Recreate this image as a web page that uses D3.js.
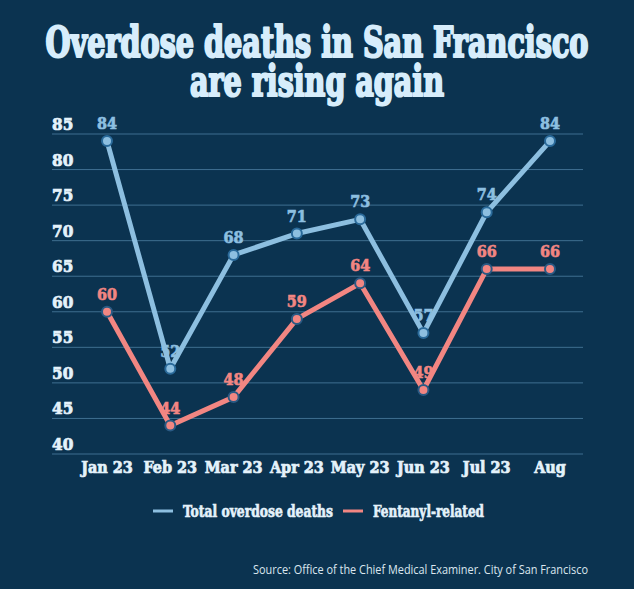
<!DOCTYPE html>
<html><head><meta charset="utf-8">
<script src="https://cdn.jsdelivr.net/npm/d3@7"></script>
<style>
html,body{margin:0;padding:0;background:#0b3350;}
svg{display:block;}
</style></head>
<body>
<script>
const months = ["Jan 23","Feb 23","Mar 23","Apr 23","May 23","Jun 23","Jul 23","Aug"];
const totalDeaths = [84,52,68,71,73,57,74,84];
const fentanylDeaths = [60,44,48,59,64,49,66,66];
const yTicks = [40,45,50,55,60,65,70,75,80,85];
const titleLines = ["Overdose deaths in San Francisco","are rising again"];
const seriesNames = ["Total overdose deaths","Fentanyl-related"];
const sourceText = "Source: Office of the Chief Medical Examiner. City of San Francisco";

const W = 634, H = 589;
const bg = "#0b3350";
const blue = "#8dbfe0", blueStroke = "#2a6a9a";
const red = "#f28682", redStroke = "#2a5a84";
const serif = "'DejaVu Serif Condensed','DejaVu Serif',serif";
const light = "#e4f2fb";

const svg = d3.select("body").append("svg").attr("width",W).attr("height",H);
svg.append("rect").attr("width",W).attr("height",H).attr("fill",bg);

// title
const tl = [{t:titleLines[0], y:57, w:543},{t:titleLines[1], y:96, w:254}];
tl.forEach(d=>{
  svg.append("text").attr("x",W/2).attr("y",d.y).attr("text-anchor","middle")
    .attr("font-family",serif).attr("font-weight","bold").attr("font-size",43)
    .attr("fill","#d7edfb").attr("stroke","#d7edfb").attr("stroke-width",2.2)
    .attr("stroke-linejoin","round")
    .attr("textLength",d.w).attr("lengthAdjust","spacingAndGlyphs")
    .text(d.t);
});

const x = d3.scalePoint().domain(months).range([107,550]);
const y = d3.scaleLinear().domain([40,85]).range([454,134]);

// gridlines
svg.append("g").selectAll("line").data(yTicks).join("line")
  .attr("x1",52).attr("x2",583).attr("y1",d=>y(d)).attr("y2",d=>y(d))
  .attr("stroke","#3f6f90").attr("stroke-width",1);

// y labels
svg.append("g").selectAll("text").data(yTicks).join("text")
  .attr("x",52).attr("y",d=>y(d)-4).attr("font-family",serif).attr("font-weight","bold")
  .attr("font-size",17).attr("fill",light).attr("stroke",light).attr("stroke-width",0.7)
  .text(d=>d);

// x labels
svg.append("g").selectAll("text").data(months).join("text")
  .attr("x",d=>x(d)).attr("y",473).attr("text-anchor","middle")
  .attr("font-family",serif).attr("font-weight","bold").attr("font-size",16)
  .attr("fill",light).attr("stroke",light).attr("stroke-width",0.7).text(d=>d);

const line = d3.line().x((d,i)=>x(months[i])).y(d=>y(d));

function drawSeries(vals, col, stroke){
  svg.append("path").datum(vals).attr("d",line).attr("fill","none")
    .attr("stroke",col).attr("stroke-width",5).attr("stroke-linejoin","round");
  svg.append("g").selectAll("circle").data(vals).join("circle")
    .attr("cx",(d,i)=>x(months[i])).attr("cy",d=>y(d)).attr("r",5)
    .attr("fill",col).attr("stroke",stroke).attr("stroke-width",2);
}
drawSeries(totalDeaths, blue, blueStroke);
drawSeries(fentanylDeaths, red, redStroke);

function drawLabels(vals, col){
  svg.append("g").selectAll("text").data(vals).join("text")
    .attr("x",(d,i)=>x(months[i])).attr("y",d=>y(d)-12).attr("text-anchor","middle")
    .attr("font-family",serif).attr("font-weight","bold").attr("font-size",16)
    .attr("fill",col).attr("stroke",col).attr("stroke-width",0.6).text(d=>d);
}
drawLabels(totalDeaths, blue);
drawLabels(fentanylDeaths, red);

// legend
const leg = [{n:seriesNames[0],c:blue,x:153,w:150},{n:seriesNames[1],c:red,x:343,w:111}];
leg.forEach(d=>{
  svg.append("line").attr("x1",d.x).attr("x2",d.x+20).attr("y1",511).attr("y2",511)
    .attr("stroke",d.c).attr("stroke-width",3);
  svg.append("text").attr("x",d.x+30).attr("y",517).attr("font-family",serif)
    .attr("font-weight","bold").attr("font-size",16).attr("fill",light)
    .attr("stroke",light).attr("stroke-width",0.6)
    .attr("textLength",d.w).attr("lengthAdjust","spacingAndGlyphs").text(d.n);
});

svg.append("text").attr("x",588).attr("y",574).attr("text-anchor","end")
  .attr("font-family","'Open Sans','Noto Sans',sans-serif").attr("font-size",12)
  .attr("fill","#dbe7ef").attr("textLength",335).attr("lengthAdjust","spacingAndGlyphs")
  .text(sourceText);
</script>
</body></html>
